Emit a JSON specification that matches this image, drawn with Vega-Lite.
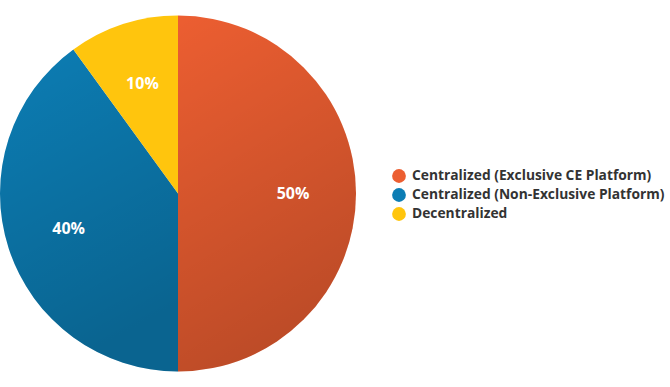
{
  "$schema": "https://vega.github.io/schema/vega-lite/v6.json",
  "width": 356,
  "height": 387,
  "padding": 0,
  "background": "white",
  "view": {"stroke": null},
  "data": {
    "values": [
      {"category": "Centralized (Exclusive CE Platform)", "share": 50, "label": "50%", "rank": 1},
      {"category": "Centralized (Non-Exclusive Platform)", "share": 40, "label": "40%", "rank": 2},
      {"category": "Decentralized", "share": 10, "label": "10%", "rank": 3}
    ]
  },
  "encoding": {
    "theta": {"field": "share", "type": "quantitative", "stack": true},
    "order": {"field": "rank", "type": "quantitative"}
  },
  "layer": [
    {
      "mark": {"type": "arc", "outerRadius": 178, "strokeWidth": 0},
      "encoding": {
        "color": {
          "field": "category",
          "type": "nominal",
          "sort": {"field": "rank"},
          "scale": {
            "domain": ["Centralized (Exclusive CE Platform)", "Centralized (Non-Exclusive Platform)", "Decentralized"],
            "range": ["#EC5E31", "#0C7DB4", "#FFC50D"]
          },
          "legend": {
            "title": null,
            "orient": "none",
            "legendX": 392,
            "legendY": 169,
            "padding": 0,
            "symbolType": "circle",
            "symbolSize": 190,
            "symbolStrokeWidth": 0,
            "labelFont": "Open Sans",
            "labelFontSize": 13.8,
            "labelFontWeight": "bold",
            "labelColor": "#333333",
            "labelOffset": 6,
            "rowPadding": 5,
            "labelLimit": 400
          }
        }
      }
    },
    {
      "mark": {"type": "arc", "outerRadius": 178, "strokeWidth": 0},
      "encoding": {
        "fill": {
          "condition": {"test": "datum.rank == 3", "value": "rgba(0,0,0,0)"},
          "value": {
            "gradient": "linear",
            "x1": 0, "y1": 0, "x2": 0.3, "y2": 1,
            "stops": [
              {"offset": 0, "color": "rgba(0,0,0,0)"},
              {"offset": 1, "color": "rgba(0,0,0,0.2)"}
            ]
          }
        }
      }
    },
    {
      "mark": {
        "type": "text",
        "radius": 115,
        "font": "Open Sans",
        "fontSize": 16,
        "fontWeight": "bold",
        "fill": "white",
        "align": "center",
        "baseline": "middle"
      },
      "encoding": {"text": {"field": "label", "type": "nominal"}}
    }
  ]
}
